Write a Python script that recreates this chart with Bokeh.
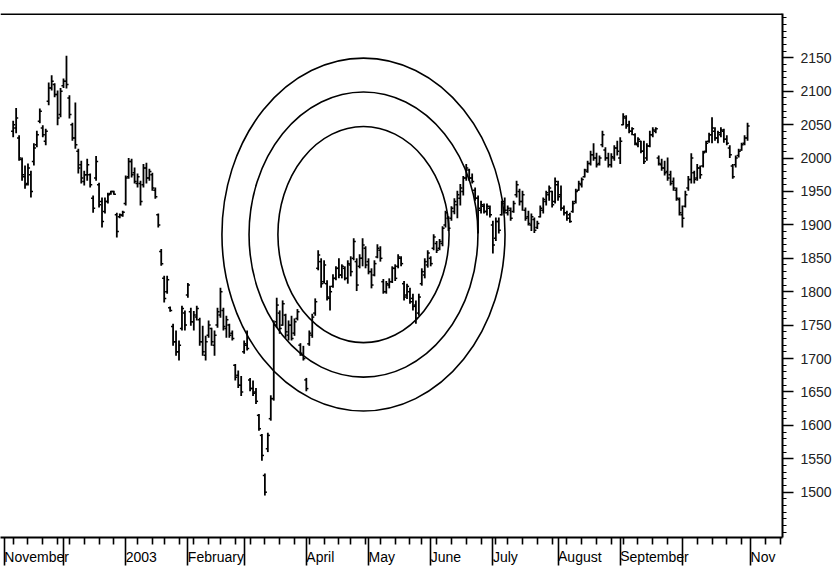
from bokeh.plotting import figure
from bokeh.models import (LinearAxis, FixedTicker, Span, Range1d,
                          ColumnDataSource, NoOverlap)
from bokeh.embed import file_html
from bokeh.resources import INLINE

# ---- data: daily OHLC, trading-day index 3 .. 251 (index 0 = 1 Nov 2002) ----
first_day = 3
highs = [
    2056, 2075, 2034, 2001, 1989, 1992, 1981, 2022, 2041, 2074,
    2049, 2044, 2113, 2124, 2112, 2101, 2105, 2119, 2153, 2094,
    2053, 2083, 2014, 1996, 1981, 1999, 1977, 1944, 2003, 1963,
    1941, 1941, 1948, 1951, 1951, 1918, 1917, 1921, 1974, 2000,
    1999, 1986, 1977, 1966, 1991, 1993, 1984, 1978, 1956, 1917,
    1864, 1824, 1824, 1778, 1752, 1742, 1727, 1779, 1772, 1813,
    1776, 1771, 1779, 1761, 1749, 1734, 1757, 1746, 1742, 1776,
    1806, 1776, 1764, 1752, 1742, 1692, 1682, 1674, 1727, 1742,
    1671, 1667, 1656, 1617, 1587, 1528, 1589, 1645, 1757, 1791,
    1772, 1787, 1767, 1757, 1764, 1760, 1774, 1723, 1719, 1671,
    1742, 1767, 1790, 1862, 1850, 1847, 1817, 1809, 1826, 1838,
    1850, 1841, 1838, 1847, 1853, 1880, 1850, 1856, 1880, 1868,
    1850, 1835, 1847, 1871, 1868, 1819, 1816, 1820, 1838, 1841,
    1856, 1853, 1816, 1812, 1806, 1797, 1787, 1797, 1835, 1850,
    1862, 1853, 1886, 1876, 1879, 1898, 1921, 1913, 1928, 1940,
    1951, 1961, 1973, 1991, 1984, 1977, 1956, 1944, 1936, 1932,
    1932, 1929, 1906, 1911, 1911, 1936, 1941, 1929, 1926, 1936,
    1966, 1954, 1951, 1926, 1921, 1917, 1911, 1906, 1929, 1941,
    1951, 1959, 1951, 1971, 1966, 1959, 1929, 1921, 1918, 1936,
    1954, 1966, 1971, 1984, 1996, 2011, 2022, 2008, 2004, 2041,
    2016, 2008, 2007, 2019, 2026, 2031, 2067, 2064, 2056, 2046,
    2037, 2031, 2026, 2026, 2022, 2041, 2046, 2046, 2004, 1999,
    1996, 2001, 1981, 1971, 1956, 1941, 1929, 1951, 1973, 2007,
    1981, 1991, 1989, 2011, 2026, 2038, 2061, 2046, 2041, 2046,
    2044, 2034, 2019, 1991, 2004, 2014, 2023, 2034, 2053,
]
lows = [
    2031, 2037, 1996, 1966, 1954, 1959, 1941, 1989, 2016, 2052,
    2031, 2019, 2079, 2101, 2091, 2049, 2061, 2105, 2104, 2059,
    2026, 2014, 1977, 1962, 1959, 1966, 1956, 1918, 1966, 1926,
    1896, 1917, 1932, 1945, 1945, 1881, 1910, 1912, 1929, 1969,
    1971, 1962, 1956, 1929, 1956, 1962, 1966, 1951, 1939, 1896,
    1839, 1784, 1797, 1770, 1719, 1704, 1697, 1742, 1742, 1791,
    1749, 1742, 1757, 1719, 1704, 1697, 1731, 1719, 1704, 1746,
    1761, 1742, 1731, 1731, 1727, 1667, 1656, 1644, 1707, 1712,
    1651, 1644, 1632, 1592, 1547, 1495, 1560, 1607, 1637, 1746,
    1737, 1749, 1731, 1727, 1727, 1734, 1757, 1704, 1697, 1651,
    1719, 1731, 1764, 1832, 1806, 1812, 1787, 1772, 1806, 1817,
    1820, 1820, 1817, 1812, 1823, 1847, 1801, 1835, 1838, 1835,
    1826, 1805, 1823, 1850, 1845, 1797, 1797, 1805, 1813, 1816,
    1835, 1838, 1787, 1789, 1782, 1772, 1752, 1764, 1809, 1820,
    1836, 1838, 1862, 1858, 1862, 1868, 1896, 1891, 1906, 1916,
    1910, 1929, 1944, 1966, 1966, 1962, 1936, 1887, 1917, 1917,
    1914, 1911, 1857, 1876, 1887, 1914, 1917, 1914, 1906, 1918,
    1941, 1929, 1921, 1906, 1899, 1891, 1888, 1894, 1911, 1917,
    1929, 1936, 1926, 1932, 1936, 1921, 1914, 1906, 1903, 1918,
    1932, 1951, 1956, 1971, 1978, 1989, 1996, 1986, 1989, 2016,
    1996, 1986, 1986, 1996, 2004, 1991, 2049, 2044, 2037, 2034,
    2019, 2016, 2007, 1991, 1996, 2016, 2031, 2037, 1989, 1981,
    1974, 1966, 1959, 1951, 1936, 1914, 1896, 1926, 1951, 1962,
    1962, 1966, 1969, 1986, 2008, 2023, 2022, 2026, 2022, 2031,
    2023, 2019, 2000, 1969, 1986, 2001, 2011, 2019, 2026,
]
opens = [
    2040, 2045, 2030, 1998, 1972, 1962, 1975, 1995, 2020, 2055,
    2045, 2025, 2085, 2105, 2110, 2095, 2065, 2108, 2115, 2090,
    2050, 2030, 2010, 1990, 1965, 1975, 1975, 1940, 1970, 1960,
    1935, 1920, 1935, 1947, 1950, 1915, 1912, 1914, 1932, 1972,
    1995, 1978, 1962, 1962, 1960, 1985, 1970, 1975, 1952, 1915,
    1860, 1820, 1800, 1776, 1748, 1725, 1710, 1745, 1768, 1795,
    1770, 1755, 1762, 1758, 1725, 1705, 1735, 1745, 1720, 1750,
    1765, 1772, 1745, 1750, 1738, 1690, 1675, 1660, 1710, 1720,
    1668, 1655, 1650, 1615, 1585, 1525, 1565, 1610, 1640, 1755,
    1768, 1750, 1765, 1735, 1750, 1738, 1760, 1720, 1705, 1668,
    1722, 1735, 1768, 1835, 1845, 1815, 1812, 1790, 1808, 1820,
    1835, 1825, 1835, 1820, 1840, 1850, 1845, 1838, 1850, 1865,
    1845, 1830, 1825, 1852, 1862, 1815, 1800, 1810, 1815, 1835,
    1838, 1850, 1812, 1795, 1800, 1790, 1780, 1768, 1812, 1825,
    1840, 1850, 1865, 1872, 1865, 1872, 1900, 1910, 1910, 1920,
    1930, 1940, 1950, 1970, 1982, 1970, 1952, 1940, 1922, 1928,
    1920, 1925, 1900, 1880, 1905, 1915, 1935, 1918, 1922, 1920,
    1945, 1950, 1935, 1922, 1912, 1900, 1908, 1896, 1912, 1922,
    1935, 1945, 1950, 1935, 1960, 1945, 1925, 1918, 1915, 1920,
    1935, 1952, 1960, 1972, 1980, 1992, 2005, 2000, 1992, 2020,
    2012, 2000, 1990, 2000, 2015, 2000, 2050, 2060, 2050, 2040,
    2035, 2020, 2025, 2010, 2000, 2018, 2035, 2040, 2000, 1990,
    1985, 1980, 1975, 1965, 1952, 1938, 1915, 1928, 1955, 1968,
    1978, 1970, 1985, 1988, 2010, 2025, 2035, 2040, 2030, 2035,
    2040, 2028, 2015, 1988, 1990, 2004, 2012, 2022, 2030,
]
closes = [
    2050, 2060, 2000, 1975, 1960, 1985, 1950, 2015, 2035, 2070,
    2035, 2040, 2105, 2115, 2095, 2060, 2100, 2115, 2110, 2065,
    2030, 2020, 1985, 1970, 1975, 1990, 1960, 1925, 1995, 1930,
    1905, 1935, 1945, 1950, 1946, 1890, 1915, 1919, 1970, 1995,
    1975, 1965, 1972, 1935, 1985, 1970, 1980, 1955, 1942, 1900,
    1842, 1790, 1818, 1772, 1725, 1710, 1720, 1775, 1750, 1810,
    1755, 1765, 1775, 1725, 1710, 1725, 1750, 1725, 1735, 1770,
    1800, 1748, 1758, 1735, 1730, 1672, 1660, 1650, 1722, 1715,
    1655, 1648, 1636, 1595, 1555, 1500, 1585, 1640, 1750, 1780,
    1745, 1782, 1740, 1750, 1730, 1755, 1770, 1708, 1700, 1655,
    1738, 1762, 1785, 1855, 1812, 1840, 1792, 1800, 1820, 1835,
    1825, 1838, 1820, 1842, 1830, 1875, 1810, 1850, 1870, 1840,
    1830, 1810, 1842, 1865, 1850, 1800, 1812, 1815, 1835, 1820,
    1852, 1842, 1792, 1808, 1785, 1778, 1760, 1792, 1830, 1845,
    1858, 1842, 1882, 1862, 1875, 1895, 1918, 1895, 1925, 1935,
    1945, 1955, 1970, 1985, 1970, 1965, 1940, 1925, 1930, 1920,
    1928, 1915, 1870, 1905, 1892, 1932, 1922, 1925, 1910, 1932,
    1960, 1935, 1945, 1910, 1902, 1912, 1892, 1902, 1925, 1938,
    1948, 1955, 1930, 1965, 1942, 1925, 1918, 1910, 1905, 1932,
    1950, 1962, 1968, 1982, 1992, 2005, 2000, 1990, 2000, 2035,
    2000, 1990, 2002, 2015, 2010, 2025, 2062, 2048, 2040, 2044,
    2022, 2028, 2010, 1995, 2018, 2035, 2042, 2044, 1992, 1985,
    1978, 1970, 1962, 1955, 1940, 1918, 1910, 1945, 1968, 2000,
    1968, 1985, 1975, 2008, 2022, 2035, 2045, 2030, 2038, 2042,
    2028, 2022, 2005, 1972, 2000, 2010, 2020, 2030, 2048,
]

# month starts (trading-day index) and their labels
month_start_idx = [0, 20, 41, 62, 81, 102, 123, 144, 165, 187, 208, 229, 252]
month_labels = ["November", "December", "2003", "February", "March", "April",
                "May", "June", "July", "August", "September", "October", "Nov"]
# one minor tick per week (mid-week trading day)
week_idx = [3, 8, 13, 18, 22, 27, 32, 37, 45, 50, 54, 59, 64, 69, 73, 78,
            83, 88, 93, 98, 103, 108, 113, 117, 122, 127, 132, 137, 141,
            146, 151, 156, 161, 166, 170, 175, 180, 185, 190, 195, 200, 205,
            209, 214, 219, 224, 234, 239, 244, 249, 257, 262]
price_ticks = [1500, 1550, 1600, 1650, 1700, 1750, 1800, 1850, 1900, 1950,
               2000, 2050, 2100, 2150]
price_minor = list(range(1440, 2220, 10))

# concentric circles (time/price units)
circle_cx = 121.3
circle_cy = 1885.5
circle_w = [57.8, 77.3, 95.6]
circle_h = [323.4, 426.6, 528.0]

# ---- figure ----
FONT = "Liberation Sans"
x0, x1 = -1.28, 262.8
y0, y1 = 1432.2, 2216.3

p = figure(frame_width=782, frame_height=524,
           x_range=Range1d(x0, x1), y_range=Range1d(y0, y1),
           x_axis_location=None, y_axis_location=None,
           output_backend="svg", toolbar_location=None,
           min_border_left=0, min_border_top=13, min_border_right=50,
           min_border_bottom=28, background_fill_color="white",
           border_fill_color="white", outline_line_color=None)
for g in p.grid:
    g.visible = False

xs = list(range(first_day, first_day + len(highs)))
src = ColumnDataSource(dict(
    x=xs, xl=[v - 0.7 for v in xs], xr=[v + 0.7 for v in xs],
    high=highs, low=lows, open=opens, close=closes))

p.segment(x0="x", y0="low", x1="x", y1="high", source=src,
          line_color="black", line_width=1.8)
p.segment(x0="xl", y0="open", x1="x", y1="open", source=src,
          line_color="black", line_width=1.5)
p.segment(x0="x", y0="close", x1="xr", y1="close", source=src,
          line_color="black", line_width=1.5)

p.ellipse(x=[circle_cx] * 3, y=[circle_cy] * 3, width=circle_w,
          height=circle_h, fill_color=None, line_color="black",
          line_width=1.6)

# top border
p.add_layout(Span(location=y1 - 0.6, dimension="width",
                  line_color="black", line_width=2))

# bottom time axis: long month ticks, short weekly ticks,
# month names written to the right of their tick
xaxis = LinearAxis(ticker=FixedTicker(ticks=month_start_idx,
                                      minor_ticks=week_idx),
                   major_label_overrides={i: t for i, t in
                                          zip(month_start_idx, month_labels)},
                   major_label_orientation=-0.0001,
                   major_label_policy=NoOverlap(min_distance=5),
                   major_tick_out=28, major_tick_in=0,
                   minor_tick_out=7, minor_tick_in=0,
                   major_label_standoff=-9,
                   major_label_text_font=FONT,
                   major_label_text_font_size="14px",
                   major_label_text_color="black",
                   axis_line_width=2, axis_line_color="black",
                   major_tick_line_width=1.6, minor_tick_line_width=1.6)
p.add_layout(xaxis, "below")

# right price axis
yaxis = LinearAxis(ticker=FixedTicker(ticks=price_ticks,
                                      minor_ticks=price_minor),
                   major_tick_out=11, major_tick_in=0,
                   minor_tick_out=4, minor_tick_in=0,
                   major_label_standoff=7,
                   major_label_text_font=FONT,
                   major_label_text_font_size="14px",
                   major_label_text_color="#222222",
                   axis_line_width=2, axis_line_color="black",
                   major_tick_line_width=1.6, minor_tick_line_width=1.2)
p.add_layout(yaxis, "right")

open("out.html", "w").write(file_html(p, INLINE))
